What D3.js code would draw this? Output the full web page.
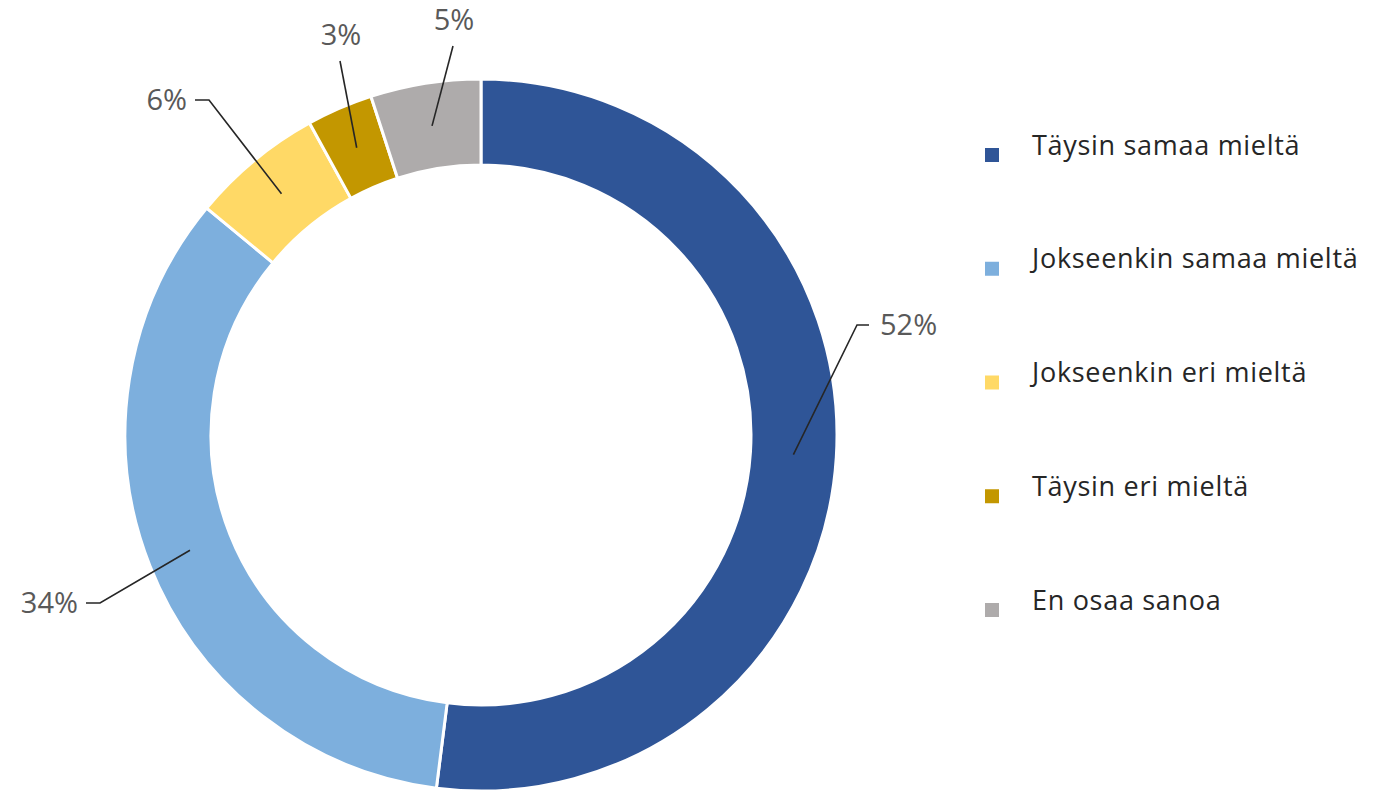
<!DOCTYPE html>
<html>
<head>
<meta charset="utf-8">
<script src="https://cdn.jsdelivr.net/npm/d3@7"></script>
<style>
  html, body { margin: 0; padding: 0; background: #ffffff; }
  svg { display: block; }
</style>
</head>
<body>
<svg id="chart" width="1378" height="790"></svg>
<script>
// ---- data ----
const categories = ["Täysin samaa mieltä", "Jokseenkin samaa mieltä", "Jokseenkin eri mieltä", "Täysin eri mieltä", "En osaa sanoa"];
const values = [52, 34, 6, 3, 5];
const valueLabels = ["52%", "34%", "6%", "3%", "5%"];
const colors = ["#2F5597", "#7DAFDD", "#FFD966", "#C39700", "#AEABAB"];

// ---- layout (label elbow offsets relative to chart centre, horizontal tail length, text anchor) ----
const labelLayout = [
  { ex: 376, ey: -110, tail: 12, side: "right" },
  { ex: -381, ey: 168, tail: -14, side: "left" },
  { ex: -272, ey: -335, tail: -14, side: "left" },
  { ex: -141, ey: -374, tail: 0, side: "top" },
  { ex: -28, ey: -389, tail: 0, side: "top" }
];

const svg = d3.select("#chart");
const cx = 481, cy = 435, rOuter = 356, rInner = 270;

const pie = d3.pie().value(d => d).sort(null);
const arcs = pie(values);
const arc = d3.arc().innerRadius(rInner).outerRadius(rOuter);

const g = svg.append("g").attr("transform", `translate(${cx},${cy})`);

g.selectAll("path.slice")
  .data(arcs)
  .join("path")
  .attr("class", "slice")
  .attr("d", arc)
  .attr("fill", (d, i) => colors[i])
  .attr("stroke", "#ffffff")
  .attr("stroke-width", 3)
  .attr("stroke-linejoin", "round");

// leader lines + labels
arcs.forEach((d, i) => {
  const c = arc.centroid(d);
  const L = labelLayout[i];
  const pts = [c, [L.ex, L.ey]];
  if (L.tail !== 0) pts.push([L.ex + L.tail, L.ey]);
  g.append("path")
    .attr("d", d3.line()(pts))
    .attr("fill", "none")
    .attr("stroke", "#262626")
    .attr("stroke-width", 1.6);

  let tx, ty, anchor;
  if (L.side === "right") { tx = L.ex + L.tail + 11; ty = L.ey; anchor = "start"; }
  else if (L.side === "left") { tx = L.ex + L.tail - 8; ty = L.ey; anchor = "end"; }
  else { tx = L.ex + 1; ty = L.ey - 26; anchor = "middle"; }
  g.append("text")
    .attr("x", tx)
    .attr("y", ty)
    .attr("dy", "0.36em")
    .attr("text-anchor", anchor)
    .attr("font-family", "'Open Sans', sans-serif")
    .attr("font-size", 29)
    .attr("fill", "#595959")
    .text(valueLabels[i]);
});

// legend
const legendY = d3.scalePoint().domain(categories).range([145, 600]);
const legend = svg.append("g");
categories.forEach((c, i) => {
  const y = legendY(c);
  legend.append("rect")
    .attr("x", 985).attr("y", y + 3)
    .attr("width", 14).attr("height", 14)
    .attr("fill", colors[i]);
  legend.append("text")
    .attr("x", 1032).attr("y", y)
    .attr("dy", "0.36em")
    .attr("font-family", "'Open Sans', sans-serif")
    .attr("font-size", 27)
    .attr("letter-spacing", 0.7)
    .attr("fill", "#262626")
    .text(c);
});
</script>
</body>
</html>
